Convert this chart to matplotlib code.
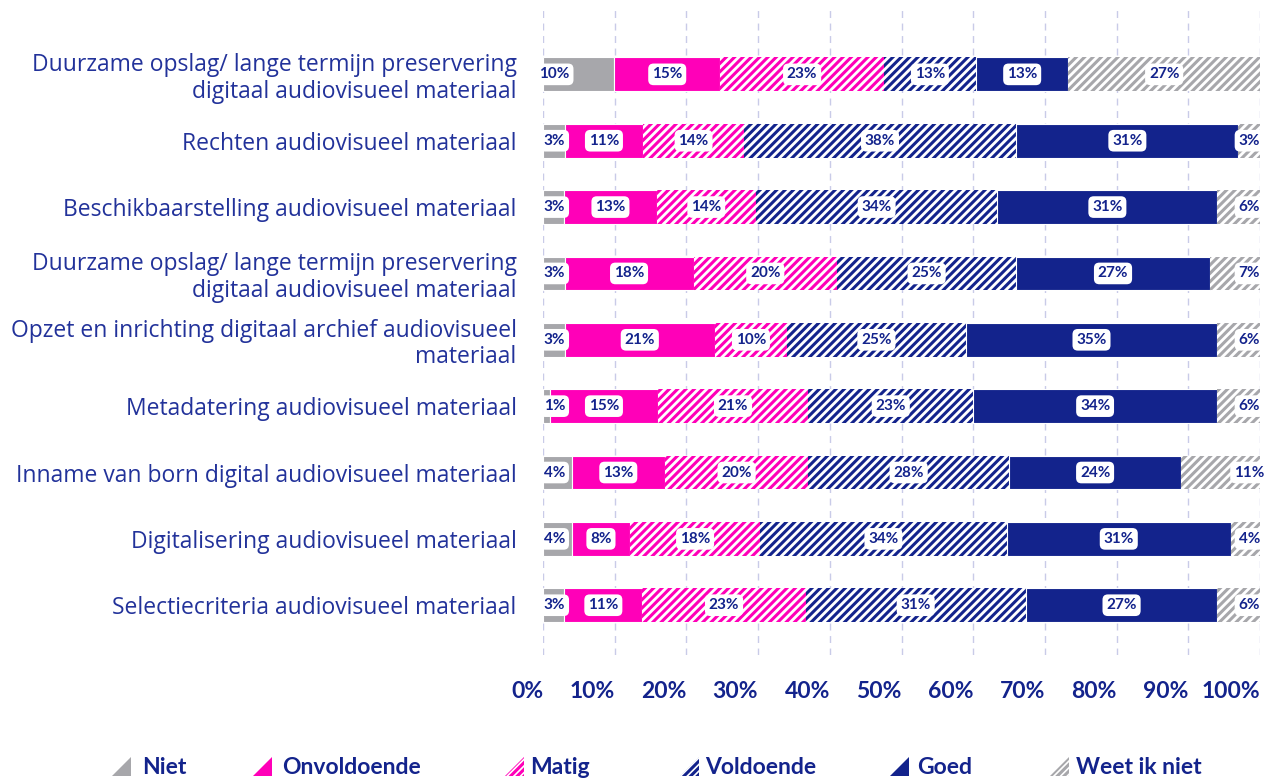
import matplotlib
matplotlib.use("Agg")
import matplotlib.pyplot as plt
import numpy as np
from matplotlib.patches import Polygon

categories = [
    "Duurzame opslag/ lange termijn preservering\ndigitaal audiovisueel materiaal",
    "Rechten audiovisueel materiaal",
    "Beschikbaarstelling audiovisueel materiaal",
    "Duurzame opslag/ lange termijn preservering\ndigitaal audiovisueel materiaal",
    "Opzet en inrichting digitaal archief audiovisueel\nmateriaal",
    "Metadatering audiovisueel materiaal",
    "Inname van born digital audiovisueel materiaal",
    "Digitalisering audiovisueel materiaal",
    "Selectiecriteria audiovisueel materiaal",
]
series_names = ["Niet", "Onvoldoende", "Matig", "Voldoende", "Goed", "Weet ik niet"]
niet        = [10, 3, 3, 3, 3, 1, 4, 4, 3]
onvoldoende = [15, 11, 13, 18, 21, 15, 13, 8, 11]
matig       = [23, 14, 14, 20, 10, 21, 20, 18, 23]
voldoende   = [13, 38, 34, 25, 25, 23, 28, 34, 31]
goed        = [13, 31, 31, 27, 35, 34, 24, 31, 27]
weet_niet   = [27, 3, 6, 7, 6, 6, 11, 4, 6]
xticks = [0, 10, 20, 30, 40, 50, 60, 70, 80, 90, 100]

NAVY = "#13238c"
TXT = "#22329a"
MAGENTA = "#ff00b8"
GRAY = "#a7a7ab"
styles = [
    dict(face=GRAY, hatch=None),
    dict(face=MAGENTA, hatch=None),
    dict(face="white", hatch="////", hc=MAGENTA),
    dict(face="white", hatch="////", hc=NAVY),
    dict(face=NAVY, hatch=None),
    dict(face="white", hatch="////", hc=GRAY),
]

plt.rcParams["font.family"] = ["Lato", "DejaVu Sans"]
plt.rcParams["hatch.linewidth"] = 2.2

fig = plt.figure(figsize=(12.65, 7.78), dpi=100)
ax = fig.add_axes([543/1265, 1-655/778, (1260-543)/1265, (655-8)/778])

data = np.array([niet, onvoldoende, matig, voldoende, goed, weet_niet], dtype=float)
totals = data.sum(axis=0)
widths = data / totals * 100
y = np.arange(len(categories))
left = np.zeros(len(categories))
nser = len(series_names)
for k in range(nser):
    st = styles[k]
    if st["hatch"] is None:
        ax.barh(y, widths[k], left=left, height=0.51, color=st["face"],
                edgecolor="white", linewidth=0.8, zorder=2)
    else:
        ax.barh(y, widths[k], left=left, height=0.51, color=st["face"],
                edgecolor=st["hc"], hatch=st["hatch"], linewidth=0, zorder=2)
    for i in range(len(categories)):
        w = widths[k][i]
        cx = left[i] + w / 2
        if k == 0 and w < 15:
            cx = 1.6
        elif k == nser - 1 and w < 15:
            cx = 98.5
        ax.text(cx, y[i], f"{int(data[k][i])}%", ha="center", va="center",
                fontsize=11, fontweight="bold", color=NAVY, zorder=4,
                bbox=dict(boxstyle="round,pad=0.25,rounding_size=0.35",
                          fc="white", ec="none"))
    left += widths[k]

ax.set_xlim(0, 100)
ax.set_ylim(8.75, -1.0)
ax.set_xticks(xticks)
ax.set_xticklabels([f"{t}%" for t in xticks], fontsize=16.5,
                   fontweight="bold", color=NAVY, ha="right")
ax.tick_params(axis="x", length=0, pad=19)
ax.set_yticks(y)
ax.set_yticklabels(categories, fontsize=16.5, color=TXT, linespacing=1.15,
                   family=["Open Sans", "DejaVu Sans"])
ax.tick_params(axis="y", length=0, pad=19)
for s in ax.spines.values():
    s.set_visible(False)
ax.grid(axis="x", color="#c9cbe8", linestyle=(0, (5, 4)), linewidth=1, zorder=0)
ax.set_axisbelow(True)

# legend
tri_x = [112, 253, 505, 680, 890, 1050]
txt_x = [142, 282, 530, 705, 917, 1076]
for k, name in enumerate(series_names):
    x0 = tri_x[k]
    st = styles[k]
    pts = [(x0/1265, 1-776/778), ((x0+19)/1265, 1-776/778),
           ((x0+19)/1265, 1-757/778)]
    if st["hatch"] is None:
        p = Polygon(pts, closed=True, transform=fig.transFigure,
                    facecolor=st["face"], edgecolor="none")
    else:
        p = Polygon(pts, closed=True, transform=fig.transFigure,
                    facecolor="white", edgecolor=st["hc"], hatch="/////", linewidth=0)
    fig.patches.append(p)
    fig.text(txt_x[k]/1265, 1-767/778, name, fontsize=16.5, fontweight="bold",
             color=NAVY, va="center", ha="left")

fig.savefig("out.png", dpi=100)
